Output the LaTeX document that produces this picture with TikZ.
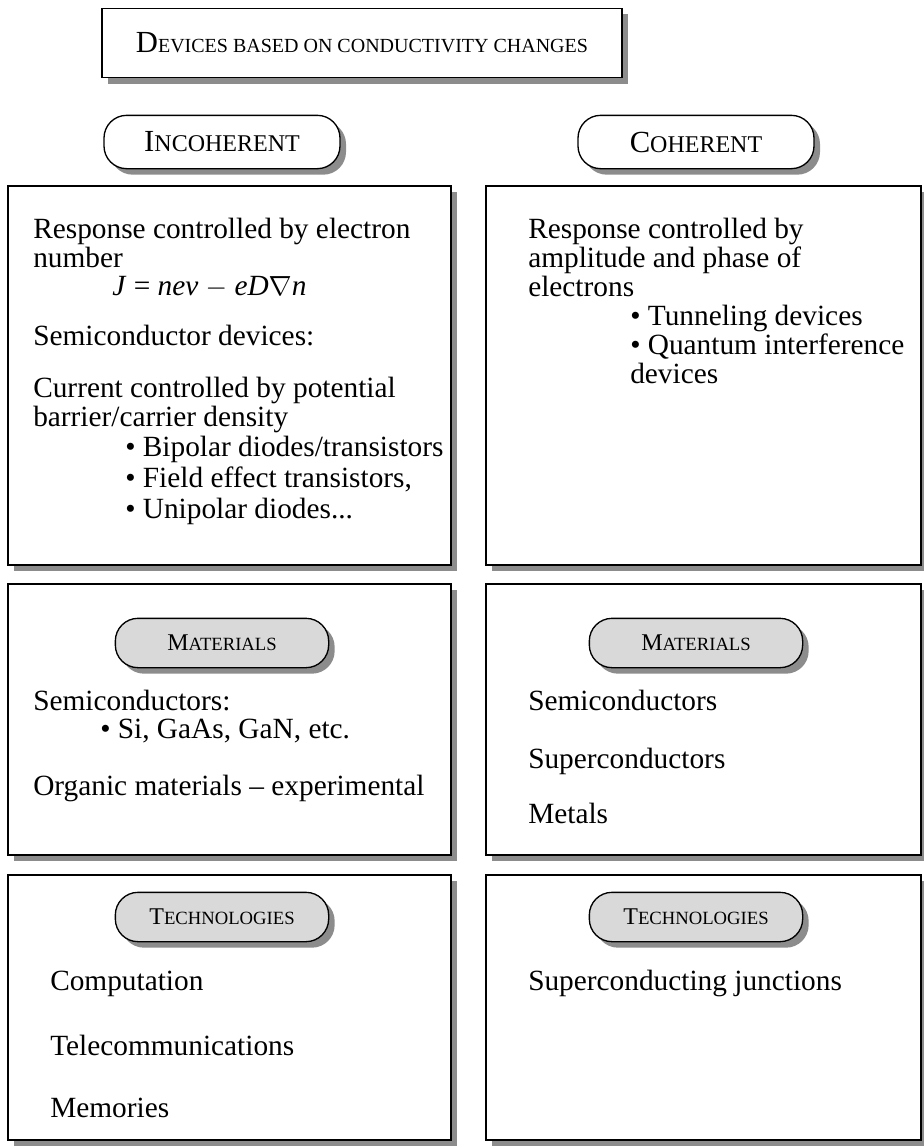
\documentclass[tikz,border=0pt]{standalone}
\usepackage{fontspec}
\setmainfont{Liberation Serif}
\usetikzlibrary{positioning}
\usetikzlibrary{shadows}

\newcommand{\fakesc}[4]{{\fontsize{#1}{#1}\selectfont #3}{\fontsize{#2}{#2}\selectfont #4}}

\begin{document}
\begin{tikzpicture}[x=0.75pt, y=-0.75pt,
  shade/.style={drop shadow={shadow xshift=4.5pt, shadow yshift=-4.5pt, fill=black!45, opacity=1}},
  panel/.style={draw, line width=1.1pt, fill=white, shade},
  pill/.style={draw, line width=1pt, fill=white, rounded corners=17pt, shade,
    minimum width=177pt, minimum height=40pt, inner sep=0pt},
  tag/.style={pill, fill=black!15, minimum height=37pt, minimum width=160pt},
  txt/.style={anchor=base west, inner sep=0pt, font=\fontsize{22}{26}\selectfont}]
\useasboundingbox (0,0) rectangle (924,1147);

% title and the two headings
\node[panel, minimum width=390pt, minimum height=52pt, inner sep=0pt] (title) at (362,43)
  {\fakesc{23}{15}{D}{EVICES BASED ON CONDUCTIVITY CHANGES}};
\node[pill] (incoh) at (222,142) {\fakesc{23}{18}{I}{NCOHERENT}};
\node[pill] (coh) at (696,142) {\fakesc{23}{18}{C}{OHERENT}};

% panels
\draw[panel] (8,186) rectangle (451,565);
\draw[panel] (486,186) rectangle (921,565);
\draw[panel] (8,584) rectangle (451,855);
\draw[panel] (486,584) rectangle (921,855);
\draw[panel] (8,875) rectangle (451,1140);
\draw[panel] (486,875) rectangle (921,1140);

% incoherent devices
\node[txt] (inc1) at (33,238) {Response controlled by electron};
\node[txt] (inc2) at (33,267) {number};
\node[txt] (inc3) at (112,295) {\textit{J} = \textit{nev} $-$ \textit{eD}$\nabla$\textit{n}};
\node[txt] (inc4) at (33,345) {Semiconductor devices:};
\node[txt] (inc5) at (33,397) {Current controlled by potential};
\node[txt] (inc6) at (33,426) {barrier/carrier density};
\node[txt] (inc7) at (125,456) {• Bipolar diodes/transistors};
\node[txt] (inc8) at (125,487) {• Field effect transistors,};
\node[txt] (inc9) at (125,518) {• Unipolar diodes...};

% coherent devices
\node[txt] (coh1) at (528,238) {Response controlled by};
\node[txt] (coh2) at (528,267) {amplitude and phase of};
\node[txt] (coh3) at (528,296) {electrons};
\node[txt] (coh4) at (630,325) {• Tunneling devices};
\node[txt] (coh5) at (630,354) {• Quantum interference};
\node[txt] (coh6) at (630,383) {devices};

% materials
\node[tag] (matL) at (222,643) {\fakesc{18}{14}{M}{ATERIALS}};
\node[tag] (matR) at (696,643) {\fakesc{18}{14}{M}{ATERIALS}};
\node[txt] (matL1) at (33,710) {Semiconductors:};
\node[txt] (matL2) at (100,738) {• Si, GaAs, GaN, etc.};
\node[txt] (matL3) at (33,795) {Organic materials -- experimental};
\node[txt] (matR1) at (528,710) {Semiconductors};
\node[txt] (matR2) at (528,768) {Superconductors};
\node[txt] (matR3) at (528,823) {Metals};

% technologies
\node[tag] (techL) at (222,917) {\fakesc{18}{14}{T}{ECHNOLOGIES}};
\node[tag] (techR) at (696,917) {\fakesc{18}{14}{T}{ECHNOLOGIES}};
\node[txt] (techL1) at (50,990) {Computation};
\node[txt] (techL2) at (50,1055) {Telecommunications};
\node[txt] (techL3) at (50,1117) {Memories};
\node[txt] (techR1) at (528,990) {Superconducting junctions};
\end{tikzpicture}
\end{document}
